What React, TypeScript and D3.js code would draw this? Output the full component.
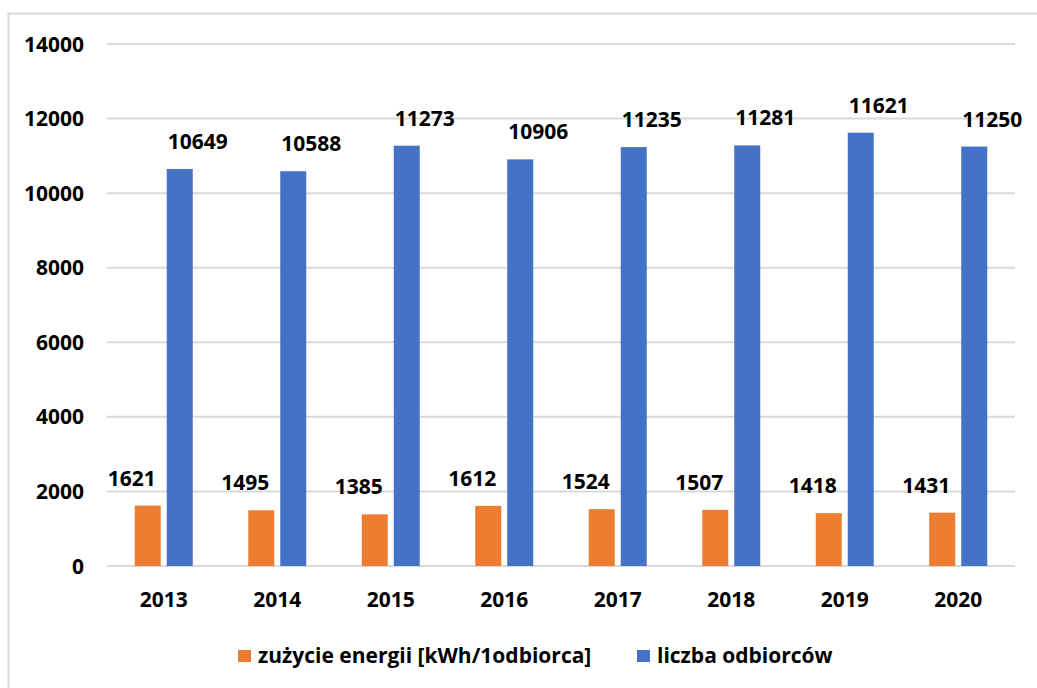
import * as d3 from "d3";
import React, {useEffect, useRef} from "react";

const years = ["2013", "2014", "2015", "2016", "2017", "2018", "2019", "2020"];
const energy = [1621, 1495, 1385, 1612, 1524, 1507, 1418, 1431];
const customers = [10649, 10588, 11273, 10906, 11235, 11281, 11621, 11250];
const yTicks = [0, 2000, 4000, 6000, 8000, 10000, 12000, 14000];
const seriesNames = ["zużycie energii [kWh/1odbiorca]", "liczba odbiorców"];
const seriesColors = ["#ED7D31", "#4472C4"];

const FONT = "'Open Sans', 'Liberation Sans', sans-serif";

const App: React.FC = () => {
  const ref = useRef<SVGSVGElement | null>(null);

  useEffect(() => {
    const svg = d3.select(ref.current);
    svg.selectAll('*').remove();

    const root = svg.append('g');

    root.append('rect')
      .attr('width', 1037).attr('height', 688)
      .attr('fill', 'white');

    // outer frame: only top and left edges fall inside the picture
    root.append('path')
      .attr('d', 'M8.5,700V13.5H1040')
      .attr('fill', 'none')
      .attr('stroke', '#d9d9d9')
      .attr('stroke-width', 2);

    const xScale = d3.scaleBand<string>()
      .domain(years)
      .range([107, 1015]);

    const inner = d3.scaleBand<number>()
      .domain([0, 1])
      .range([0, xScale.bandwidth()])
      .paddingInner(0.1875)
      .paddingOuter(0.867);

    const yScale = d3.scaleLinear()
      .domain([0, 14000])
      .range([566, 44]);

    // grid lines
    root.append('g')
      .selectAll('line')
      .data(yTicks)
      .enter()
      .append('line')
      .attr('x1', 107)
      .attr('x2', 1015)
      .attr('y1', (d) => yScale(d))
      .attr('y2', (d) => yScale(d))
      .attr('stroke', '#d9d9d9')
      .attr('stroke-width', 2);

    // y tick labels
    root.append('g')
      .selectAll('text')
      .data(yTicks)
      .enter()
      .append('text')
      .attr('x', 84)
      .attr('y', (d) => yScale(d))
      .attr('dy', '0.36em')
      .attr('text-anchor', 'end')
      .style('font-family', FONT)
      .style('font-weight', '700')
      .style('font-size', '21px')
      .attr('fill', '#000')
      .text((d) => d);

    const series = [energy, customers];
    const labelShift = [-16, 18];

    series.forEach((values, si) => {
      const g = root.append('g');
      g.selectAll('rect')
        .data(values)
        .enter()
        .append('rect')
        .attr('x', (d, i) => (xScale(years[i]) || 0) + (inner(si) || 0))
        .attr('y', (d) => yScale(d))
        .attr('width', inner.bandwidth())
        .attr('height', (d) => yScale(0) - yScale(d))
        .attr('fill', seriesColors[si]);

      g.selectAll('text')
        .data(values)
        .enter()
        .append('text')
        .attr('x', (d, i) => (xScale(years[i]) || 0) + (inner(si) || 0) + inner.bandwidth() / 2 + labelShift[si])
        .attr('y', (d) => yScale(d) - 20)
        .attr('text-anchor', 'middle')
        .style('font-family', FONT)
        .style('font-weight', '700')
        .style('font-size', '21px')
        .attr('fill', '#000')
        .text((d) => d);
    });

    // x labels
    root.append('g')
      .selectAll('text')
      .data(years)
      .enter()
      .append('text')
      .attr('x', (d) => (xScale(d) || 0) + xScale.bandwidth() / 2)
      .attr('y', 607)
      .attr('text-anchor', 'middle')
      .style('font-family', FONT)
      .style('font-weight', '700')
      .style('font-size', '21px')
      .attr('fill', '#000')
      .text((d) => d);

    // legend
    const legendX = [238, 637];
    const legend = root.append('g');
    seriesNames.forEach((name, i) => {
      legend.append('rect')
        .attr('x', legendX[i])
        .attr('y', 650)
        .attr('width', 13)
        .attr('height', 12)
        .attr('fill', seriesColors[i]);
      legend.append('text')
        .attr('x', legendX[i] + 20)
        .attr('y', 663)
        .style('font-family', FONT)
        .style('font-weight', '700')
        .style('font-size', '21px')
        .attr('fill', '#000')
        .text(name);
    });
  }, []);

  return (
    <svg
      ref={ref}
      width={1037}
      height={688}
      style={{position: 'fixed', left: 0, top: 0, display: 'block'}}
    />
  );
};

export default App;
